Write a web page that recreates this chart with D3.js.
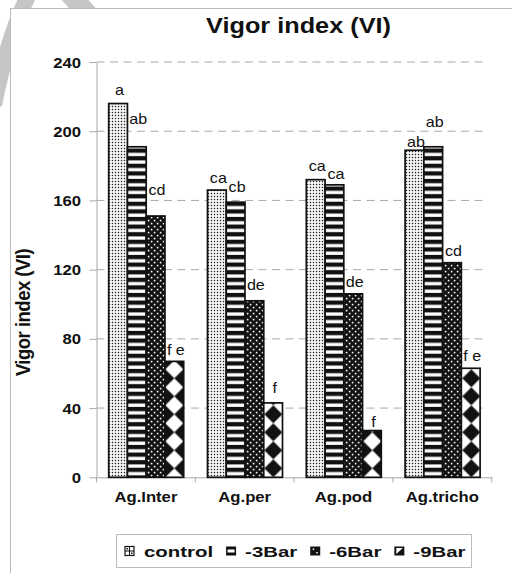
<!DOCTYPE html>
<html><head><meta charset="utf-8">
<script src="https://cdn.jsdelivr.net/npm/d3@7"></script>
<style>
html,body{margin:0;padding:0;background:#fff;}
svg{display:block;font-family:"Liberation Sans",Arial,Helvetica,sans-serif;}
</style>
</head><body>
<svg id="chart" width="512" height="573"></svg>
<script>
// ---------------- data ----------------
const categories = ["Ag.Inter", "Ag.per", "Ag.pod", "Ag.tricho"];
const seriesNames = ["control", "-3Bar", "-6Bar", "-9Bar"];
const controlValues = [216, 166, 172, 189];
const bar3Values = [191, 159, 169, 191];
const bar6Values = [151, 102, 106, 124];
const bar9Values = [67, 43, 27, 63];
// significance letters
const controlLetters = ["a", "ca", "ca", "ab"];
const bar3Letters = ["ab", "cb", "ca", "ab"];
const bar6Letters = ["cd", "de", "de", "cd"];
const bar9Letters = ["f e", "f", "f", "f e"];
// (undrawn) error margins the letters sit above
const controlErr = [4, 3, 4, 0.5];
const bar3Err = [12, 5, 2.3, 10];
const bar6Err = [11, 5, 3, 3];
const bar9Err = [2.3, 4.6, 1.2, 3];
const yTicks = [0, 40, 80, 120, 160, 200, 240];
const titleText = "Vigor index (VI)";
const yTitleText = "Vigor index (VI)";

const seriesValues = [controlValues, bar3Values, bar6Values, bar9Values];
const seriesLetters = [controlLetters, bar3Letters, bar6Letters, bar9Letters];
const seriesErr = [controlErr, bar3Err, bar6Err, bar9Err];

// ---------------- setup ----------------
const svg = d3.select("#chart");
const defs = svg.append("defs");
const SX = 1.15;           // horizontal glyph stretch seen in the picture
const ink = "#111";
const axisGray = "#a9a9a9";

// watermark strokes (behind the chart panel)
svg.append("path").attr("d", "M 30 -8 Q 8 35 -6 105")
  .attr("fill", "none").attr("stroke", "#c6c6c6").attr("stroke-width", 16);
svg.append("path").attr("d", "M 68 -8 L 100 28")
  .attr("fill", "none").attr("stroke", "#c6c6c6").attr("stroke-width", 20);

// chart panel
svg.append("rect").attr("x", 10.5).attr("y", 8.5).attr("width", 620).attr("height", 620)
  .attr("fill", "#fff").attr("stroke", "#bcbcbc").attr("stroke-width", 1);

// scales
const y = d3.scaleLinear().domain([0, 240]).range([477.3, 62]);
const x0 = d3.scaleBand().domain(categories).range([96.5, 491.7]).padding(0);
const x1 = d3.scaleBand().domain(seriesNames).range([12.2, x0.bandwidth() - 11.6]).padding(0);

// ---------------- patterns ----------------
function pat(id, w, h, px, py) {
  return defs.append("pattern").attr("id", id).attr("patternUnits", "userSpaceOnUse")
    .attr("width", w).attr("height", h).attr("x", px || 0).attr("y", py || 0);
}
// control: fine dots on white
let p = pat("pControl", 3, 3, 0, 0);
p.append("rect").attr("width", 3).attr("height", 3).attr("fill", "#fff");
p.append("rect").attr("x", 0.8).attr("y", 0.8).attr("width", 1.4).attr("height", 1.4).attr("fill", "#222");
// -3Bar: white horizontal stripes on black
p = pat("p3", 30, 7.6, 0, y(0));
p.append("rect").attr("width", 30).attr("height", 7.6).attr("fill", "#111");
p.append("rect").attr("y", 2.3).attr("width", 30).attr("height", 3.3).attr("fill", "#fff");
// -6Bar: white dots on black
p = pat("p6", 6, 6, 0, 0);
p.append("rect").attr("width", 6).attr("height", 6).attr("fill", "#111");
p.append("rect").attr("x", 0.8).attr("y", 0.8).attr("width", 1.6).attr("height", 1.6).attr("fill", "#fff");
p.append("rect").attr("x", 3.8).attr("y", 3.8).attr("width", 1.6).attr("height", 1.6).attr("fill", "#fff");
// -9Bar: diagonal checker of diamonds
const firstNineCenter = x0(categories[0]) + x1("-9Bar") + x1.bandwidth() / 2;
p = pat("p9", 18, 18, firstNineCenter, y(0));
p.append("rect").attr("width", 18).attr("height", 18).attr("fill", "#fff");
p.append("path").attr("d", "M9,0 L18,9 L9,18 L0,9 Z").attr("fill", "#111");
const fills = ["url(#pControl)", "url(#p3)", "url(#p6)", "url(#p9)"];

// ---------------- title ----------------
svg.append("text").text(titleText)
  .attr("text-anchor", "middle").attr("font-size", 22).attr("font-weight", "bold").attr("fill", ink)
  .attr("transform", `translate(298.5,32.5) scale(${SX},1)`);

// ---------------- gridlines ----------------
svg.append("g").selectAll("line").data(yTicks.filter(v => v > 0)).join("line")
  .attr("x1", 96.5).attr("x2", 488).attr("y1", d => y(d)).attr("y2", d => y(d))
  .attr("stroke", axisGray).attr("stroke-width", 1).attr("stroke-dasharray", "8,5.5");

// ---------------- y axis ----------------
const yAxis = svg.append("g").attr("transform", "translate(96.5,0)")
  .call(d3.axisLeft(y).tickValues(yTicks).tickSize(7).tickSizeOuter(0).tickFormat(d3.format("d")));
yAxis.select(".domain").attr("stroke", axisGray);
yAxis.selectAll(".tick line").attr("stroke", axisGray);
yAxis.selectAll(".tick text")
  .attr("x", 0).attr("dy", null).attr("y", 5)
  .attr("transform", `translate(-15.5,0) scale(${SX},1)`)
  .attr("text-anchor", "end").attr("font-size", 14.5).attr("font-weight", "bold")
  .attr("font-family", "Liberation Sans, Arial, sans-serif").attr("fill", ink);

// y title
svg.append("text").text(yTitleText)
  .attr("text-anchor", "middle").attr("font-size", 18.5).attr("font-weight", "bold")
  .attr("letter-spacing", -0.5).attr("fill", ink)
  .attr("transform", "translate(29.5,312.5) rotate(-90) scale(1,1.05)");

// ---------------- x axis ----------------
const xAxis = svg.append("g").attr("transform", `translate(0,${y(0)})`)
  .call(d3.axisBottom(x0).tickSize(0).tickSizeOuter(0));
xAxis.select(".domain").attr("stroke", axisGray);
xAxis.selectAll(".tick text")
  .attr("y", 0).attr("dy", null)
  .attr("transform", `translate(0,25) scale(${SX},1)`)
  .attr("font-size", 14.5).attr("font-weight", "bold")
  .attr("font-family", "Liberation Sans, Arial, sans-serif").attr("fill", ink);
const boundaries = categories.map(c => x0(c)).concat([x0.range()[1]]);
svg.append("g").selectAll("line").data(boundaries).join("line")
  .attr("x1", d => d).attr("x2", d => d).attr("y1", y(0)).attr("y2", y(0) + 5)
  .attr("stroke", axisGray);

// ---------------- bars ----------------
const barData = [];
seriesNames.forEach((s, i) => categories.forEach((c, j) => {
  barData.push({ s, c, i, v: seriesValues[i][j], letter: seriesLetters[i][j], err: seriesErr[i][j] });
}));
svg.append("g").selectAll("rect").data(barData).join("rect")
  .attr("x", d => x0(d.c) + x1(d.s))
  .attr("y", d => y(d.v))
  .attr("width", x1.bandwidth())
  .attr("height", d => y(0) - y(d.v))
  .attr("fill", d => fills[d.i])
  .attr("stroke", "#111").attr("stroke-width", 1.7);

// letters
svg.append("g").selectAll("text").data(barData).join("text")
  .text(d => d.letter)
  .attr("text-anchor", "middle").attr("font-size", 14).attr("fill", ink)
  .attr("transform", d => `translate(${x0(d.c) + x1(d.s) + x1.bandwidth() / 2 + 1.5},${y(d.v + d.err) - 2}) scale(${SX},1)`);

// ---------------- legend ----------------
const legend = svg.append("g");
legend.append("rect").attr("x", 116.5).attr("y", 534.5).attr("width", 355).attr("height", 33)
  .attr("fill", "#fff").attr("stroke", "#bcbcbc");
const LSX = 1.36;
let lx = 125;
const ly = 551;
seriesNames.forEach((s, i) => {
  const g = legend.append("g").attr("transform", `translate(${lx},${ly - 4.5})`);
  if (i === 0) {
    g.append("rect").attr("width", 9).attr("height", 9).attr("fill", "#fff").attr("stroke", "#111").attr("stroke-width", 1.2);
    g.append("path").attr("d", "M4.5,0 V9 M0,4.5 H9").attr("stroke", "#111").attr("stroke-width", 1);
    g.append("rect").attr("x", 1.5).attr("y", 1.5).attr("width", 1.5).attr("height", 1.5).attr("fill", "#111");
    g.append("rect").attr("x", 6).attr("y", 6).attr("width", 1.5).attr("height", 1.5).attr("fill", "#111");
  } else if (i === 1) {
    g.append("rect").attr("width", 10).attr("height", 9).attr("fill", "#111");
    g.append("rect").attr("x", 1.5).attr("y", 3).attr("width", 7).attr("height", 3).attr("fill", "#fff");
  } else if (i === 2) {
    g.append("rect").attr("width", 10).attr("height", 9).attr("fill", "#111");
    g.append("rect").attr("x", 2.5).attr("y", 2).attr("width", 1.5).attr("height", 1.5).attr("fill", "#fff");
    g.append("rect").attr("x", 6).attr("y", 5.5).attr("width", 1.5).attr("height", 1.5).attr("fill", "#fff");
  } else {
    g.append("rect").attr("width", 10).attr("height", 9).attr("fill", "#111");
    g.append("path").attr("d", "M1.5,7.5 L8,1.5 L8,7.5 Z").attr("fill", "#fff").attr("transform", "translate(10,9) rotate(180)");
  }
  const t = legend.append("text").text(s)
    .attr("font-size", 15).attr("font-weight", "bold").attr("fill", ink)
    .attr("transform", `translate(${lx + 19},${ly + 5.5}) scale(${LSX},1)`);
  const w = t.node().getComputedTextLength() * LSX;
  lx = lx + 19 + w + 13;
});
</script>
</body></html>
